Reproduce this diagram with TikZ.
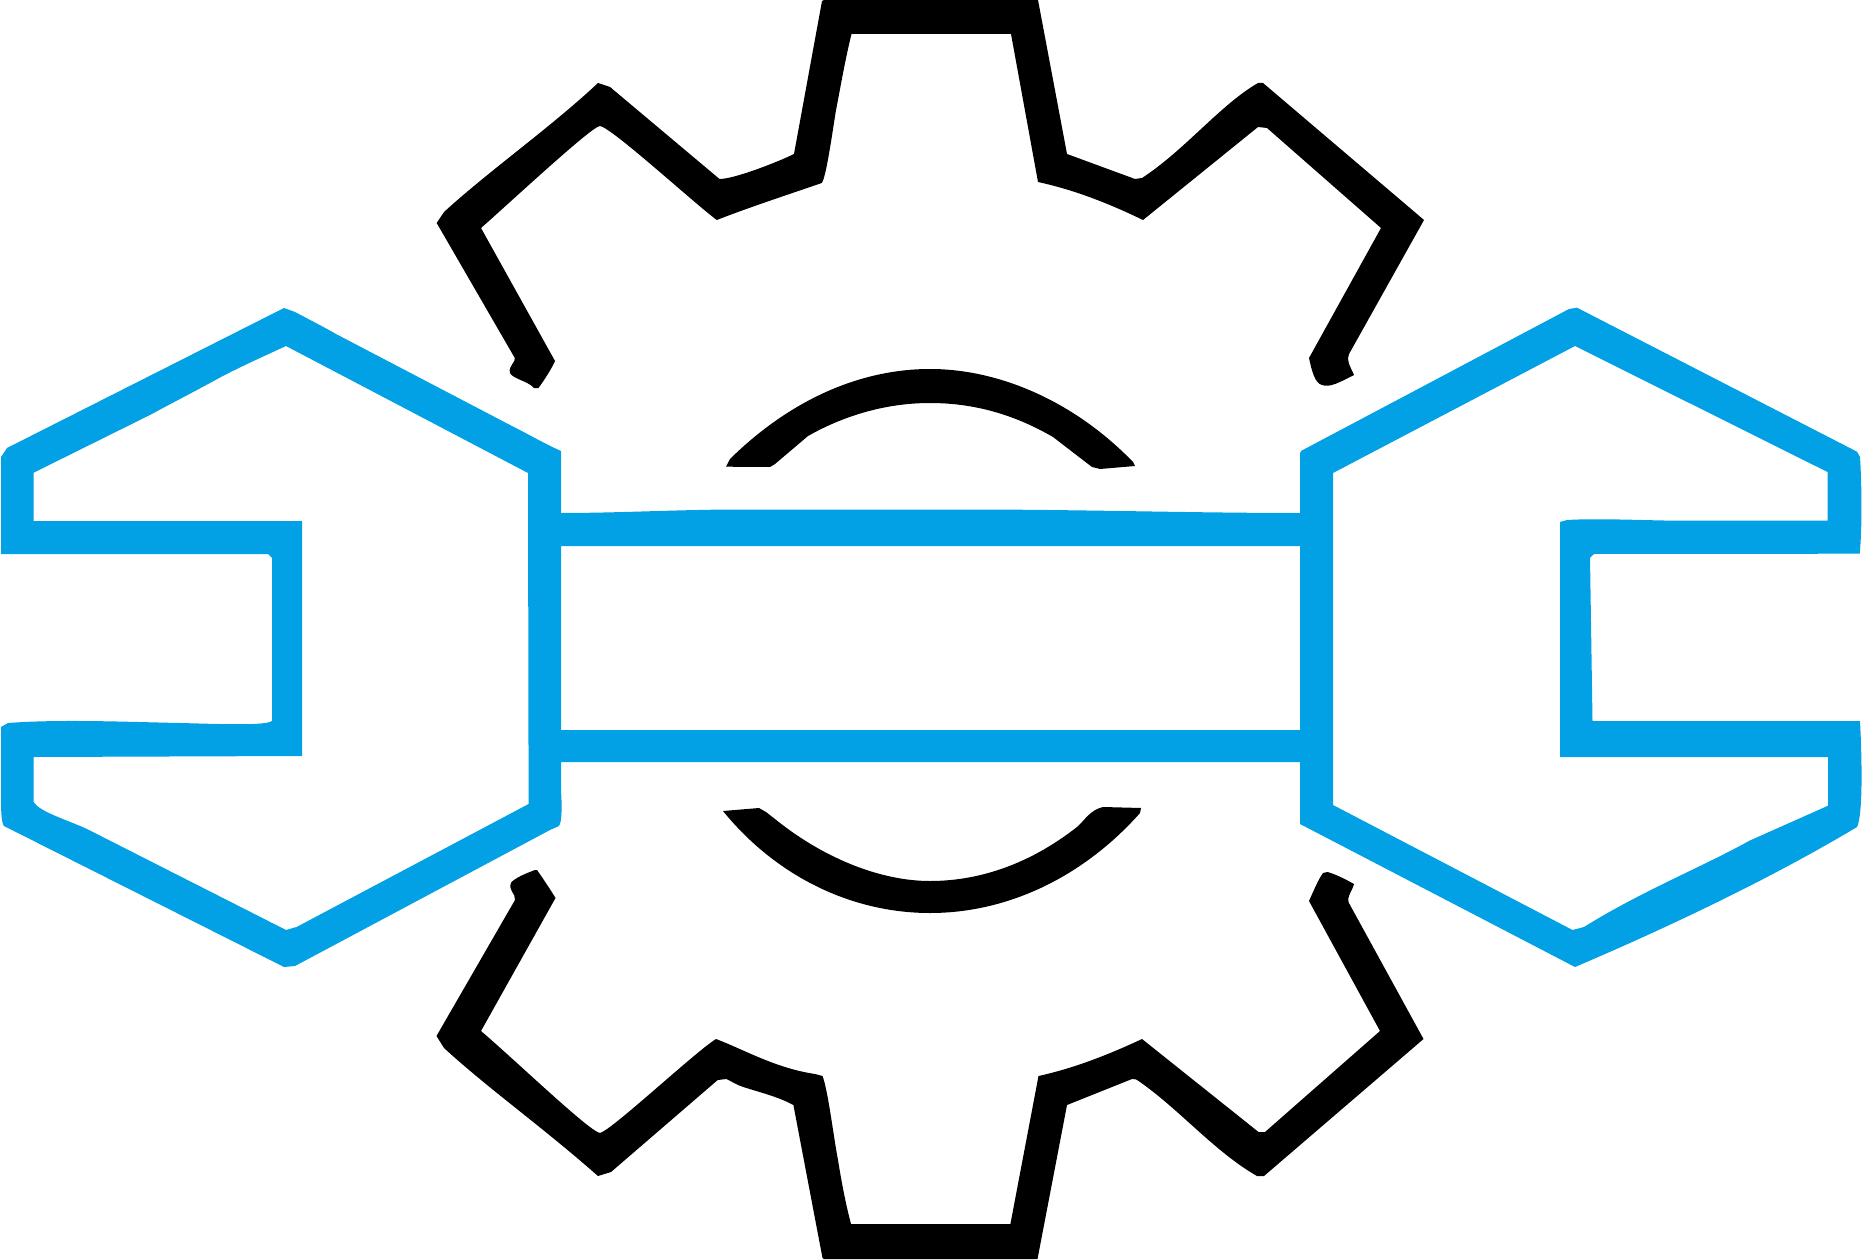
\documentclass[tikz,border=0pt]{standalone}
\usepackage{amsmath}
\usepackage{tikz}
\definecolor{wrenchblue}{HTML}{02A0E4}
\begin{document}
\begin{tikzpicture}[x=0.02cm,y=-0.02cm]
\tikzstyle{wrench}=[fill=wrenchblue, even odd rule]
\tikzstyle{gear}=[fill=black]
\useasboundingbox (0,0) rectangle (1862,1260);
% wrench, with its three holes
\fill[wrench] (1,554)--(1,457)--(7,448)--(284,308)--(295,312) .. controls (310,320) and (322,326) .. (336,334)--(510,425)
  .. controls (530,435) and (545,444) .. (561,451)--(561,513) .. controls (620,513) and (680,509.5) .. (740,509.5)--(985,509.5)
  .. controls (1100,510) and (1200,513) .. (1300,513)--(1300,453)--(1301.5,450.7)--(1569,309)--(1577,307.7)--(1857,451.7)--(1860,457)
  .. controls (1862,490) and (1862,530) .. (1859.7,553.7)--(1594,554)--(1590,557.7)--(1592.5,721)--(1860,721)
  .. controls (1862,760) and (1863,815) .. (1857,827) .. controls (1760,885) and (1650,935) .. (1575,967)--(1300,824)--(1300,762)--(561,762)--(561,790)
  .. controls (562,805) and (562,822) .. (559,826)--(550,830)--(295,966)--(284,967)--(4,826) .. controls (1,822) and (1,810) .. (1,790)--(1,727)--(8,723)
  .. controls (60,719) and (130,722) .. (180,723) .. controls (220,724) and (268,726) .. (272,720.7)--(272,558)--(268,554)--cycle
  (33.6,472.7)--(33.6,521)--(302,521)--(302,756)--(33.6,757)--(33.6,802) .. controls (40,812) and (65,819) .. (87,829)--(286,930)--(296.6,927)--(528.6,804)--(528,473)--(286,346)
  .. controls (260,358) and (240,367) .. (221,377) .. controls (190,394) and (170,404) .. (150,415)--cycle
  (561,546)--(1300,546)--(1300,730)--(561,730)--cycle
  (1333,473)--(1333,805)--(1572.5,930)--(1584,927) .. controls (1640,892) and (1700,868) .. (1749.5,840.7)--(1828,805.7)--(1828,757)--(1560,757)--(1560,522)--(1567,520)
  .. controls (1600,518) and (1650,520.7) .. (1682,520.7)--(1827.5,520.7)--(1827.5,472)--(1575,346)--cycle;
% gear, upper half
\fill[gear] (822,1)--(824,0)--(1038,0)--(1067,154)--(1135,179)--(1142,178) .. controls (1185,150) and (1220,105) .. (1258,83)--(1263,83)--(1424,220)--(1349,354)
  .. controls (1346,360) and (1350,366) .. (1354,375) .. controls (1340,382) and (1330,388) .. (1322,385) .. controls (1315,383) and (1312,372) .. (1309,358)
  --(1381,228)--(1267,128)--(1258,127)--(1143,220) .. controls (1110,204) and (1075,190) .. (1038,182)--(1011,34)--(851.5,34)
  .. controls (845,60) and (840,90) .. (836,110) .. controls (832,135) and (826,178) .. (821.7,183) .. controls (790,194) and (750,207) .. (716.8,220)
  .. controls (695,204) and (610,126) .. (599.7,126) .. controls (590,128) and (515,198) .. (481,228)--(555,361) .. controls (552,368) and (545,379) .. (538.5,388)--(534,388)
  .. controls (528,381) and (513,379) .. (510,373) .. controls (508,366) and (516,362) .. (514.8,358)--(436.7,223)--(444,212) .. controls (490,170) and (550,128) .. (598,83)--(610,87)
  --(719.5,179) .. controls (735,179) and (780,161) .. (794,154)--cycle;
% gear, lower half
\fill[gear] (822.5,1258)--(793.4,1105) .. controls (775,1095) and (750,1090) .. (738,1085)--(726.5,1079)--(717.7,1080)--(611,1172)--(598,1176)
  .. controls (540,1125) and (490,1090) .. (444,1048)--(436.5,1036)--(515,900) .. controls (516,893) and (507,890) .. (511.5,882) .. controls (518,876) and (530,872) .. (535,870)--(537,870)
  .. controls (544,880) and (550,889) .. (555.5,898)--(481,1031) .. controls (515,1060) and (590,1132) .. (600,1133) .. controls (612,1130) and (695,1052) .. (716,1039)
  .. controls (745,1050) and (775,1068) .. (815,1074)--(822.5,1076) .. controls (828,1090) and (834,1140) .. (838,1160) .. controls (842,1185) and (846,1205) .. (851,1224)
  --(1010.4,1224)--(1038.5,1076) .. controls (1075,1068) and (1110,1054) .. (1142,1039)--(1258.5,1132)--(1265,1132)--(1380,1031)--(1309,901)
  .. controls (1314,890) and (1318,880) .. (1323,873)--(1327.5,872) .. controls (1335,874) and (1345,879) .. (1354,884) .. controls (1352,892) and (1345,898) .. (1350,905)
  --(1423.5,1039)--(1264,1176)--(1257,1176) .. controls (1215,1152) and (1180,1110) .. (1140,1082)  .. controls (1137,1080) and (1135,1078) .. (1132,1079)--(1067,1105)--(1037.5,1259)--(824,1259)--cycle;
% the two arcs
\fill[gear] (726,466.7)--(730,459) .. controls (790,400) and (860,369) .. (930,369) .. controls (1000,369) and (1075,402) .. (1133,462)--(1135,466)--(1100,469)--(1092,467)--(1053,437)
  .. controls (1015,415) and (975,403) .. (930,403) .. controls (887,403) and (845,415) .. (808,436)--(775,464)--(770,467)--cycle;
\fill[gear] (723,811) .. controls (775,875) and (850,913) .. (930,913) .. controls (1010,913) and (1085,875) .. (1140,813)--(1141,808)--(1103,807)
  .. controls (1090,810) and (1085,820) .. (1077,827) .. controls (1035,860) and (985,881) .. (930,881) .. controls (880,881) and (825,858) .. (780,823)--(766,812)--(759,808)--cycle;
\end{tikzpicture}
\end{document}
